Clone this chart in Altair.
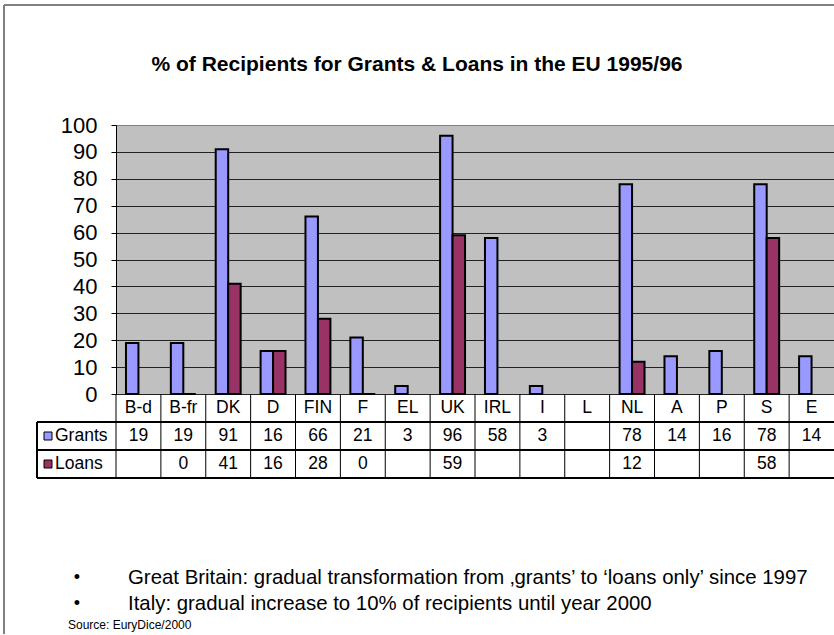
import altair as alt
import pandas as pd

countries = ["B-d", "B-fr", "DK", "D", "FIN", "F", "EL", "UK", "IRL", "I", "L", "NL", "A", "P", "S", "E"]
grants = [19, 19, 91, 16, 66, 21, 3, 96, 58, 3, None, 78, 14, 16, 78, 14]
loans = [None, 0, 41, 16, 28, 0, None, 59, None, None, None, 12, None, None, 58, None]
series = ["Grants", "Loans"]
colors = ["#9999FF", "#993366"]
y_ticks = [0, 10, 20, 30, 40, 50, 60, 70, 80, 90, 100]
title_text = "% of Recipients for Grants & Loans in the EU 1995/96"
notes = [
    "Great Britain: gradual transformation from \u201agrants\u2019 to \u2018loans only\u2019 since 1997",
    "Italy: gradual increase to 10% of recipients until year 2000",
]
source_text = "Source: EuryDice/2000"

FONT = "Liberation Sans"
W, H = 718, 269
ROW = 28.0

rows = []
for s, vals in zip(series, [grants, loans]):
    for c, v in zip(countries, vals):
        rows.append({"country": c, "series": s, "value": v,
                     "label": "" if v is None else str(int(v))})
df = pd.DataFrame(rows)
bar_df = df[df["value"].notna()].copy()
cdf = pd.DataFrame({"country": countries})

xscale = alt.Scale(domain=countries, paddingInner=0, paddingOuter=0)
X = alt.X("country:N", scale=xscale, axis=None, sort=countries)
cscale = alt.Scale(domain=series, range=colors)

bars = alt.Chart(bar_df).mark_bar(stroke="black", strokeWidth=2).encode(
    x=X,
    xOffset=alt.XOffset("series:N", scale=alt.Scale(domain=series, paddingInner=0, paddingOuter=0.8)),
    y=alt.Y("value:Q", scale=alt.Scale(domain=[0, 100], nice=False),
            axis=alt.Axis(values=y_ticks, title=None, grid=True,
                          gridColor={"condition": {"test": "datum.value >= 100", "value": "#808080"}, "value": "#222222"},
                          gridWidth=1, domainColor="black", tickColor="black", tickSize=5,
                          labelFont=FONT, labelFontSize=22, labelColor="black", labelPadding=14)),
    color=alt.Color("series:N", scale=cscale, legend=None),
)

# table grid
vlines = alt.Chart(cdf).mark_rule(color="black", strokeWidth=1).encode(
    x=alt.X("country:N", scale=xscale, axis=None, sort=countries, bandPosition=0),
    y=alt.value(H), y2=alt.value(H + 3 * ROW),
)
left_line = alt.Chart(cdf).mark_rule(color="black", strokeWidth=1).encode(
    x=alt.value(-79), y=alt.value(H + ROW), y2=alt.value(H + 3 * ROW))
hlines = [
    alt.Chart(cdf).mark_rule(color="black", strokeWidth=1).encode(
        x=alt.value(-79), x2=alt.value(W), y=alt.value(H + k * ROW))
    for k in (1, 2, 3)
]

header = alt.Chart(cdf).mark_text(font=FONT, fontSize=17.5, color="black", baseline="middle").encode(
    x=X, y=alt.value(H + ROW * 0.5), text="country:N")
row_texts = []
legend_marks = []
for i, s in enumerate(series):
    yy = H + ROW * (1.5 + i)
    row_texts.append(
        alt.Chart(df).transform_filter(alt.datum.series == s).mark_text(
            font=FONT, fontSize=17.5, color="black", baseline="middle").encode(
            x=X, y=alt.value(yy), text="label:N"))
    legend_marks.append(
        alt.Chart(pd.DataFrame({"series": [s]})).mark_point(
            shape="square", filled=True, size=64, stroke="black", strokeWidth=1, opacity=1).encode(
            x=alt.value(-68), y=alt.value(yy), fill=alt.Color("series:N", scale=cscale, legend=None)))
    legend_marks.append(
        alt.Chart(pd.DataFrame({"t": [s]})).mark_text(
            font=FONT, fontSize=17.5, color="black", align="left", baseline="middle").encode(
            x=alt.value(-61), y=alt.value(yy), text="t:N"))

title = alt.Chart(pd.DataFrame({"t": [title_text]})).mark_text(
    font=FONT, fontSize=21, fontWeight="bold", color="black", baseline="middle", align="center").encode(
    x=alt.value(301), y=alt.value(-60), text="t:N")

note_marks = []
for i, n in enumerate(notes):
    yy = 453 + i * 26
    note_marks.append(alt.Chart(pd.DataFrame({"t": ["\u2022"]})).mark_text(
        font=FONT, fontSize=18, color="black", baseline="middle", align="center").encode(
        x=alt.value(-39), y=alt.value(yy), text="t:N"))
    note_marks.append(alt.Chart(pd.DataFrame({"t": [n]})).mark_text(
        font=FONT, fontSize=20.4, color="black", baseline="middle", align="left").encode(
        x=alt.value(12), y=alt.value(yy), text="t:N"))
src = alt.Chart(pd.DataFrame({"t": [source_text]})).mark_text(
    font=FONT, fontSize=12, color="black", baseline="middle", align="left").encode(
    x=alt.value(-48), y=alt.value(500), text="t:N")

border = [
    alt.Chart(cdf).mark_rule(color="#808080", strokeWidth=1.5).encode(
        x=alt.value(-112), y=alt.value(-120), y2=alt.value(515)),
    alt.Chart(cdf).mark_rule(color="#808080", strokeWidth=1.5).encode(
        x=alt.value(-112), x2=alt.value(W), y=alt.value(-120)),
]

chart = alt.layer(
    bars, vlines, left_line, *hlines, header, *row_texts, *legend_marks,
    title, *note_marks, src, *border
).properties(
    width=W, height=H,
    autosize=alt.AutoSizeParams(type="none"),
    padding={"left": 116, "top": 125, "right": 0, "bottom": 240},
    background="white",
).configure_view(fill="#C0C0C0", stroke="#808080", strokeWidth=1)

chart.save("out.html", embed_options={"renderer": "svg", "actions": False})
